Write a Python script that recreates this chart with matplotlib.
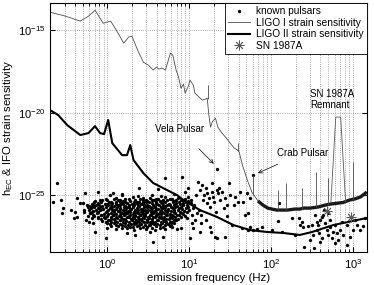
import numpy as np
import matplotlib
matplotlib.use("Agg")
import matplotlib.pyplot as plt
from matplotlib.ticker import FixedLocator, NullLocator, LogFormatterSciNotation

plt.rcParams['font.family'] = ['Liberation Sans', 'DejaVu Sans']
plt.rcParams['mathtext.fontset'] = 'custom'
plt.rcParams['mathtext.rm'] = 'Liberation Sans'
plt.rcParams['mathtext.it'] = 'Liberation Sans:italic'

# LIGO I strain sensitivity (log10 f, log10 h)
ligo1_logf = [-0.70, -0.51, -0.33, -0.23, -0.15, -0.09, -0.05, 0.04, 0.11, 0.20,
              0.26, 0.30, 0.37, 0.44, 0.50, 0.56, 0.60, 0.63, 0.67, 0.71,
              0.77, 0.80, 0.84, 0.87, 0.90, 0.93, 0.95, 0.99, 1.01, 1.05,
              1.07, 1.12, 1.16, 1.20, 1.22, 1.24, 1.26, 1.28, 1.32,
              1.35, 1.40, 1.45, 1.50, 1.55, 1.59, 1.61, 1.65, 1.71,
              1.77, 1.79, 1.84, 1.90, 1.96, 2.01, 2.07, 2.10,
              2.17, 2.20, 2.29, 2.35, 2.40, 2.48, 2.57,
              2.66, 2.72, 2.80, 2.88, 2.96, 3.02, 3.09, 3.17]
ligo1_logh = [-13.91, -14.15, -14.45, -14.15, -13.79, -14.27, -14.58, -14.45, -15.00, -15.79,
              -15.42, -15.36, -16.21, -16.94, -17.12, -17.42, -17.24, -17.36, -17.30, -17.42,
              -16.39, -16.52, -17.42, -17.85, -18.52, -18.27, -18.82, -18.39, -18.03, -18.33,
              -18.82, -19.06, -19.24, -19.18, -19.12, -20.15, -20.88, -20.58, -20.33,
              -20.88, -21.24, -21.52, -21.85, -22.15, -22.27, -22.39, -23.18, -24.09,
              -24.88, -25.00, -25.36, -25.61, -25.79, -25.85, -25.91, -25.91,
              -25.91, -25.91, -25.85, -25.85, -25.79, -25.79, -25.73,
              -25.61, -25.55, -25.50, -25.45, -25.30, -25.24, -25.12, -24.82]

# narrow lines on top of LIGO I (log10 f, base, top)
spike_logf = [1.23, 1.60, 1.78, 2.09, 2.18, 2.38, 2.55, 2.70, 3.00]
spike_base = [-19.15, -22.30, -25.00, -25.90, -25.90, -25.85, -25.75, -25.60, -25.30]
spike_top = [-18.33, -21.85, -23.79, -24.70, -24.27, -24.58, -23.61, -23.97, -23.00]

# SN 1987A remnant line
snr_logf = [2.73, 2.79, 2.85, 2.91]
snr_logh = [-25.48, -20.27, -20.27, -25.42]

# LIGO II strain sensitivity
ligo2_logf = [-0.70, -0.60, -0.49, -0.33, -0.23, -0.15, -0.09, -0.04, 0.01, 0.06,
              0.18, 0.24, 0.28, 0.32, 0.44, 0.56, 0.73, 0.85, 0.93, 1.13,
              1.34, 1.54, 1.74, 1.95, 2.15, 2.35, 2.50, 2.76, 3.17]
ligo2_logh = [-19.85, -20.15, -20.76, -21.36, -21.24, -20.82, -21.24, -21.30, -20.45, -21.85,
              -22.58, -22.58, -21.97, -22.88, -23.67, -24.27, -24.70, -25.00, -25.30, -25.91,
              -26.33, -26.82, -27.12, -27.24, -27.30, -27.42, -27.24, -26.82, -26.39]

# known pulsars (log10 f, log10 h)
pulsars = [
    # main cloud
    (0.03, -25.02), (0.18, -24.95), (0.37, -25.05), (0.55, -24.98), (0.65, -25.07), (0.82, -24.92),
    (-0.02, -25.22), (0.10, -25.18), (0.22, -25.25), (0.31, -25.12), (0.43, -25.20), (0.52, -25.15),
    (0.60, -25.24), (0.70, -25.10), (0.79, -25.22), (0.86, -25.17), (0.95, -25.25),
    (-0.09, -25.27), (0.00, -25.29), (0.08, -25.25), (0.16, -25.28), (0.26, -25.26), (0.34, -25.29),
    (0.40, -25.25), (0.47, -25.27), (0.55, -25.29), (0.62, -25.26), (0.68, -25.28), (0.76, -25.25),
    (0.84, -25.28), (0.92, -25.27),
    (-0.15, -25.38), (-0.06, -25.33), (0.04, -25.40), (0.13, -25.31), (0.19, -25.37), (0.28, -25.34),
    (0.36, -25.40), (0.44, -25.30), (0.49, -25.38), (0.57, -25.33), (0.64, -25.39), (0.73, -25.32),
    (0.82, -25.37), (0.90, -25.30), (0.99, -25.36),
    (-0.16, -25.43), (-0.08, -25.45), (0.02, -25.42), (0.10, -25.44), (0.15, -25.43), (0.22, -25.41),
    (0.32, -25.44), (0.39, -25.42), (0.44, -25.45), (0.51, -25.43), (0.59, -25.41), (0.66, -25.44),
    (0.71, -25.42), (0.80, -25.45), (0.88, -25.43), (0.96, -25.42),
    (-0.19, -25.52), (-0.11, -25.47), (-0.03, -25.55), (0.06, -25.48), (0.11, -25.53), (0.17, -25.46),
    (0.24, -25.51), (0.30, -25.56), (0.35, -25.47), (0.41, -25.52), (0.47, -25.45), (0.54, -25.50),
    (0.61, -25.55), (0.67, -25.48), (0.75, -25.53), (0.84, -25.46), (0.92, -25.51), (1.02, -25.49),
    (-0.17, -25.58), (-0.10, -25.60), (-0.01, -25.57), (0.04, -25.59), (0.13, -25.58), (0.19, -25.56),
    (0.26, -25.59), (0.31, -25.58), (0.37, -25.60), (0.43, -25.57), (0.49, -25.59), (0.56, -25.58),
    (0.60, -25.56), (0.68, -25.59), (0.73, -25.58), (0.81, -25.60), (0.89, -25.57), (0.97, -25.58),
    (-0.22, -25.66), (-0.14, -25.62), (-0.07, -25.68), (0.01, -25.63), (0.08, -25.69), (0.15, -25.61),
    (0.21, -25.66), (0.27, -25.70), (0.33, -25.62), (0.39, -25.67), (0.45, -25.60), (0.51, -25.65),
    (0.58, -25.71), (0.63, -25.63), (0.70, -25.68), (0.77, -25.61), (0.85, -25.66), (0.93, -25.62),
    (-0.24, -25.73), (-0.16, -25.74), (-0.09, -25.72), (-0.02, -25.75), (0.06, -25.73), (0.12, -25.71),
    (0.20, -25.74), (0.25, -25.73), (0.31, -25.75), (0.38, -25.72), (0.45, -25.74), (0.52, -25.73),
    (0.58, -25.71), (0.65, -25.74), (0.71, -25.73), (0.78, -25.75), (0.83, -25.72), (0.90, -25.74),
    (0.99, -25.73),
    (-0.20, -25.81), (-0.12, -25.77), (-0.05, -25.83), (0.03, -25.78), (0.10, -25.84), (0.16, -25.76),
    (0.23, -25.80), (0.29, -25.85), (0.36, -25.77), (0.42, -25.82), (0.48, -25.75), (0.55, -25.80),
    (0.62, -25.86), (0.68, -25.78), (0.74, -25.83), (0.80, -25.76), (0.88, -25.81), (0.96, -25.79),
    (-0.22, -25.88), (-0.14, -25.89), (-0.06, -25.87), (0.01, -25.90), (0.08, -25.88), (0.15, -25.86),
    (0.21, -25.89), (0.28, -25.88), (0.34, -25.90), (0.41, -25.87), (0.46, -25.89), (0.53, -25.88),
    (0.60, -25.86), (0.66, -25.89), (0.74, -25.88), (0.82, -25.90), (0.91, -25.87),
    (-0.17, -25.96), (-0.09, -25.92), (-0.01, -25.98), (0.06, -25.93), (0.13, -25.99), (0.19, -25.91),
    (0.25, -25.95), (0.32, -26.00), (0.38, -25.92), (0.44, -25.97), (0.50, -25.90), (0.57, -25.95),
    (0.64, -26.01), (0.71, -25.93), (0.78, -25.98), (0.86, -25.91), (0.94, -25.96),
    (-0.19, -26.03), (-0.11, -26.04), (-0.02, -26.02), (0.08, -26.05), (0.15, -26.03), (0.22, -26.01),
    (0.28, -26.04), (0.35, -26.03), (0.41, -26.05), (0.47, -26.02), (0.53, -26.04), (0.59, -26.03),
    (0.67, -26.01), (0.73, -26.04), (0.81, -26.03), (0.89, -26.05), (0.97, -26.02),
    (-0.21, -26.11), (-0.13, -26.07), (-0.04, -26.13), (0.04, -26.08), (0.11, -26.14), (0.18, -26.06),
    (0.24, -26.10), (0.31, -26.15), (0.37, -26.07), (0.43, -26.12), (0.49, -26.05), (0.56, -26.10),
    (0.62, -26.16), (0.69, -26.08), (0.76, -26.13), (0.83, -26.06), (0.91, -26.11),
    (-0.17, -26.18), (-0.08, -26.19), (0.01, -26.17), (0.07, -26.20), (0.15, -26.18), (0.21, -26.16),
    (0.28, -26.19), (0.34, -26.18), (0.40, -26.20), (0.46, -26.17), (0.52, -26.19), (0.59, -26.18),
    (0.65, -26.16), (0.72, -26.19), (0.79, -26.18), (0.85, -26.20), (0.93, -26.17),
    (-0.16, -26.26), (-0.08, -26.22), (0.00, -26.28), (0.07, -26.23), (0.14, -26.29), (0.20, -26.21),
    (0.27, -26.25), (0.34, -26.30), (0.40, -26.22), (0.46, -26.27), (0.53, -26.20), (0.60, -26.25),
    (0.66, -26.31), (0.73, -26.23), (0.80, -26.28), (0.87, -26.21), (0.95, -26.26),
    (-0.12, -26.33), (-0.04, -26.34), (0.04, -26.32), (0.10, -26.35), (0.17, -26.33), (0.24, -26.31),
    (0.31, -26.34), (0.37, -26.33), (0.43, -26.35), (0.50, -26.32), (0.56, -26.34), (0.63, -26.33),
    (0.69, -26.31), (0.76, -26.34), (0.83, -26.33), (0.90, -26.35),
    (-0.12, -26.41), (-0.03, -26.37), (0.05, -26.43), (0.12, -26.38), (0.19, -26.44), (0.26, -26.36),
    (0.32, -26.40), (0.39, -26.45), (0.45, -26.37), (0.51, -26.42), (0.58, -26.35), (0.65, -26.40),
    (0.72, -26.46), (0.79, -26.38), (0.86, -26.43),
    (-0.08, -26.48), (0.01, -26.49), (0.08, -26.47), (0.15, -26.50), (0.22, -26.48), (0.29, -26.46),
    (0.35, -26.49), (0.41, -26.48), (0.48, -26.50), (0.54, -26.47), (0.61, -26.49), (0.68, -26.48),
    (0.75, -26.46), (0.82, -26.49),
    (-0.06, -26.56), (0.02, -26.52), (0.09, -26.58), (0.16, -26.53), (0.23, -26.59), (0.30, -26.51),
    (0.36, -26.55), (0.42, -26.60), (0.49, -26.52), (0.55, -26.57), (0.62, -26.50), (0.69, -26.55),
    (0.76, -26.61), (0.84, -26.53),
    (-0.02, -26.63), (0.05, -26.64), (0.12, -26.62), (0.19, -26.65), (0.26, -26.63), (0.32, -26.61),
    (0.39, -26.64), (0.45, -26.63), (0.52, -26.65), (0.58, -26.62), (0.65, -26.64), (0.72, -26.63),
    (0.79, -26.61),
    (0.00, -26.72), (0.08, -26.68), (0.15, -26.74), (0.22, -26.67), (0.29, -26.73), (0.35, -26.69),
    (0.41, -26.75), (0.48, -26.66), (0.54, -26.71), (0.61, -26.76), (0.67, -26.68), (0.74, -26.73),
    (0.81, -26.67),
    (0.03, -26.78), (0.11, -26.80), (0.18, -26.79), (0.25, -26.81), (0.32, -26.78), (0.39, -26.80),
    (0.46, -26.79), (0.51, -26.81), (0.57, -26.78), (0.64, -26.80), (0.71, -26.79), (0.78, -26.81),
    (0.05, -26.86), (0.13, -26.90), (0.21, -26.85), (0.28, -26.92), (0.36, -26.87), (0.44, -26.93),
    (0.52, -26.84), (0.60, -26.89), (0.68, -26.94), (0.76, -26.86),
    (0.00, -26.97), (0.18, -26.98), (0.31, -26.96), (0.40, -26.99), (0.55, -26.97), (0.64, -26.98),
    (0.79, -26.96), (0.90, -26.99),
    (0.10, -27.05), (0.24, -27.02), (0.33, -27.10), (0.47, -27.04), (0.58, -27.12), (0.70, -27.03),
    (0.85, -27.08),
    # sparse low-frequency points
    (-0.61, -24.27), (-0.66, -25.42), (-0.56, -25.30), (-0.54, -25.79), (-0.55, -26.09), (-0.44, -25.91),
    (-0.41, -26.39), (-0.39, -26.03), (-0.37, -25.18), (-0.37, -26.33), (-0.33, -25.48), (-0.30, -25.48),
    (-0.29, -25.91), (-0.27, -24.88), (-0.26, -26.52), (-0.23, -26.64), (-0.21, -26.09), (-0.17, -26.70),
    (-0.15, -27.24), (-0.11, -24.82), (-0.02, -27.61), (0.07, -24.88), (0.24, -27.30), (0.18, -25.00),
    (0.39, -24.58), (0.34, -27.42), (0.49, -26.94), (0.52, -27.24), (0.56, -27.85), (0.62, -24.64),
    (-0.25, -25.60), (-0.20, -25.75), (-0.24, -26.25), (-0.28, -26.00), (-0.19, -26.40),
    # 10 - 60 Hz
    (0.70, -23.97), (0.91, -23.91), (0.68, -27.55), (1.11, -24.21), (1.16, -24.39), (1.28, -24.27),
    (1.48, -24.27), (1.01, -27.61), (1.05, -27.00), (1.07, -26.52), (1.13, -27.24), (1.26, -26.94),
    (1.27, -27.24), (1.34, -27.61), (1.44, -27.55), (1.32, -27.55), (1.56, -25.12), (1.60, -25.42),
    (1.71, -24.88), (1.74, -25.18), (1.72, -26.09), (1.52, -26.82), (1.65, -27.00), (1.72, -27.12),
    (1.83, -27.06), (1.26, -25.73), (1.17, -25.30), (1.22, -24.88), (1.29, -25.12), (1.35, -24.88),
    (1.40, -24.82), (1.44, -25.18), (1.10, -26.09), (1.01, -25.48), (1.05, -25.79), (1.13, -24.70),
    (1.20, -24.58), (1.28, -24.82), (1.34, -24.70), (1.22, -25.48), (1.46, -25.61), (1.66, -25.42),
    (0.95, -24.80), (0.98, -25.10), (1.02, -25.30), (1.00, -25.90), (1.04, -26.20), (0.97, -26.40),
    (1.06, -25.60), (1.08, -25.00), (1.03, -26.70), (0.99, -24.60), (1.12, -25.90), (1.15, -26.20),
    (1.18, -25.00), (1.20, -26.50), (1.14, -26.70), (1.24, -25.20), (1.30, -25.40), (1.33, -26.00),
    (1.38, -25.30), (1.42, -25.80), (1.36, -24.60), (1.50, -25.00), (1.46, -26.30), (1.55, -25.60),
    (1.62, -24.80), (1.68, -26.20),
    # Vela and Crab
    (1.34, -23.40), (1.78, -23.79),
    # 60 - 300 Hz
    (2.10, -25.48), (2.09, -26.58), (1.78, -27.12), (1.74, -26.94), (2.01, -27.12), (2.13, -27.24),
    (2.26, -26.39), (2.34, -26.39), (2.38, -26.64), (2.35, -26.82), (2.39, -26.94), (2.29, -27.42),
    (2.40, -28.15), (1.89, -26.94),
    # 300 Hz - 1.5 kHz
    (2.48, -27.73), (2.51, -27.42), (2.56, -27.12), (2.57, -26.82), (2.60, -26.52), (2.62, -26.33),
    (2.63, -26.21), (2.66, -26.70), (2.68, -27.12), (2.70, -27.42), (2.72, -26.94), (2.74, -27.61),
    (2.76, -27.24), (2.78, -26.82), (2.80, -27.30), (2.82, -27.73), (2.84, -27.12), (2.87, -26.64),
    (2.93, -26.82), (2.96, -27.55), (3.00, -27.12), (3.05, -26.82), (3.09, -27.12), (2.93, -28.03),
    (2.60, -27.85), (2.56, -26.64), (2.50, -26.82), (2.54, -26.21),
    (2.65, -25.90), (2.70, -26.10), (2.58, -27.30), (2.45, -26.90), (2.78, -27.90), (2.88, -27.40),
    (3.02, -26.50), (3.12, -26.90), (2.52, -28.20), (2.72, -26.50), (2.62, -27.60), (3.15, -26.40),
]

# SN 1987A candidates
sn_logf = [2.68, 2.98]
sn_logh = [-25.97, -26.33]

pulsars = np.array(pulsars)
l1f = 10 ** np.array(ligo1_logf)
l1h = 10 ** np.array(ligo1_logh)
floor = np.array(ligo1_logf) >= 1.80

fig = plt.figure(figsize=(3.74, 2.85), dpi=100)
ax = fig.add_axes([0.134, 0.116, 0.847, 0.873])

ax.plot(10 ** pulsars[:, 0], 10 ** pulsars[:, 1], 'o', color='k', ms=2.4, mew=0,
        label='known pulsars')
ax.plot(l1f, l1h, color='0.3', lw=0.6, label='LIGO I strain sensitivity')
ax.plot(l1f[floor], l1h[floor], color='0.1', lw=2.4, solid_capstyle='butt')
ax.vlines(10 ** np.array(spike_logf), 10 ** np.array(spike_base), 10 ** np.array(spike_top),
          color='0.3', lw=0.6)
ax.plot(10 ** np.array(snr_logf), 10 ** np.array(snr_logh), color='0.35', lw=0.6)
ax.plot(10 ** np.array(ligo2_logf), 10 ** np.array(ligo2_logh), color='k', lw=1.5,
        label='LIGO II strain sensitivity')
ax.plot(10 ** np.array(sn_logf), 10 ** np.array(sn_logh), ls='none', marker=(8, 2, 0),
        color='0.35', ms=7, mew=0.6, label='SN 1987A')

ax.set_xscale('log')
ax.set_yscale('log')
ax.set_xlim(0.2, 1480)
ax.set_ylim(10 ** -28.45, 10 ** -13.36)
ax.yaxis.set_major_locator(FixedLocator([1e-25, 1e-20, 1e-15]))
ax.yaxis.set_minor_locator(NullLocator())
ax.yaxis.set_major_formatter(LogFormatterSciNotation())

ax.grid(True, which='both', axis='x', ls=':', color='0.55', lw=0.6)
ax.grid(True, which='major', axis='y', ls=':', color='0.55', lw=0.6)
ax.tick_params(which='both', direction='in', top=True, right=True, labelsize=8)
ax.tick_params(which='minor', length=2)
ax.tick_params(which='major', length=3.5)

ax.set_xlabel('emission frequency (Hz)', fontsize=8.2, labelpad=2)
ax.set_ylabel(r'h$_{\mathrm{EC}}$ & IFO strain sensitivity', fontsize=8.2, labelpad=2)

ax.annotate('Vela Pulsar', xy=(10 ** 1.30, 10 ** -23.1), xytext=(10 ** 0.58, 10 ** -21.0),
            fontsize=7, va='center', ha='left',
            arrowprops=dict(arrowstyle='->', lw=0.5, color='k', shrinkA=12, shrinkB=0))
ax.annotate('Crab Pulsar', xy=(10 ** 1.84, 10 ** -23.67), xytext=(10 ** 2.07, 10 ** -22.45),
            fontsize=7, va='center', ha='left',
            arrowprops=dict(arrowstyle='->', lw=0.5, color='k', shrinkA=6, shrinkB=0))
ax.text(10 ** 2.48, 10 ** -19.2, 'SN 1987A\nRemnant', fontsize=7, va='center', ha='left',
        linespacing=1.1)

leg = ax.legend(loc='upper right', fontsize=7.3, borderaxespad=0, fancybox=False,
                framealpha=1, edgecolor='k', handlelength=2.2, borderpad=0.3,
                labelspacing=0.15, handletextpad=0.6)
leg.get_frame().set_linewidth(0.6)

fig.savefig('out.png', dpi=100)
